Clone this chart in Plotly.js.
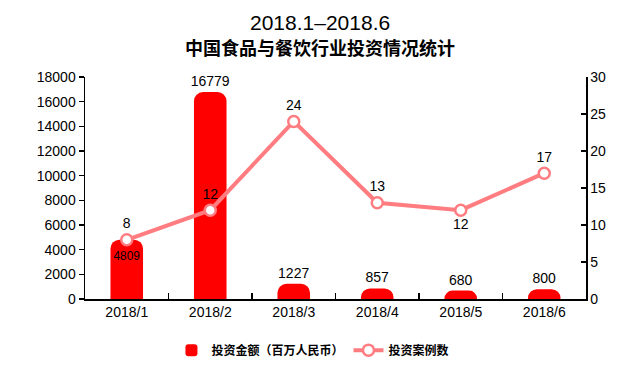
<!DOCTYPE html>
<html>
<head>
<meta charset="utf-8">
<script src="https://cdn.plot.ly/plotly-3.0.1.min.js"></script>
<style>html,body{margin:0;padding:0;background:#fff;}#chart{width:640px;height:377px;}</style>
</head>
<body>
<div id="chart"></div>
<script>
var months = ["2018/1", "2018/2", "2018/3", "2018/4", "2018/5", "2018/6"];
var amounts = [4809, 16779, 1227, 857, 680, 800];
var cases = [8, 12, 24, 13, 12, 17];
var amountName = "投资金额（百万人民币）";
var casesName = "投资案例数";
var titleLine1 = "2018.1–2018.6";
var titleLine2 = "中国食品与餐饮行业投资情况统计";

var FONT = "Liberation Sans, Arial, Noto Sans CJK SC, sans-serif";

var barTrace = {
  type: "bar",
  name: amountName,
  x: months,
  y: amounts,
  width: 0.39,
  marker: {color: "#FF0000", cornerradius: 9},
  text: amounts.map(String),
  textposition: ["inside", "outside", "outside", "outside", "outside", "outside"],
  insidetextanchor: "end",
  textangle: 0,
  constraintext: "none",
  textfont: {color: "#000", size: 14, family: FONT},
  insidetextfont: {color: "#000", size: 14, family: FONT},
  outsidetextfont: {color: "#000", size: 14, family: FONT},
  cliponaxis: false,
  hoverinfo: "x+y"
};

var lineTrace = {
  type: "scatter",
  mode: "lines+markers+text",
  name: casesName,
  x: months,
  y: cases,
  yaxis: "y2",
  line: {color: "#FF7C80", width: 4},
  marker: {symbol: "circle", size: 11, color: "#FFFFFF", line: {color: "#FF7C80", width: 2.5}},
  text: cases.map(String),
  textposition: ["top center", "top center", "top center", "top center", "bottom center", "top center"],
  textfont: {color: "#000", size: 14, family: FONT},
  cliponaxis: false
};

var layout = {
  width: 640,
  height: 377,
  margin: {l: 85, r: 54, t: 77, b: 75},
  paper_bgcolor: "#fff",
  plot_bgcolor: "#fff",
  font: {family: FONT, size: 14, color: "#000"},
  annotations: [
    {text: titleLine1, xref: "paper", yref: "paper", x: 0.469, y: 1.244, xanchor: "center", yanchor: "middle",
     showarrow: false, font: {family: FONT, size: 21, color: "#000"}},
    {text: "<b>" + titleLine2 + "</b>", xref: "paper", yref: "paper", x: 0.469, y: 1.133, xanchor: "center", yanchor: "middle",
     showarrow: false, font: {family: "Noto Sans CJK SC, sans-serif", size: 18, color: "#000"}}
  ],
  showlegend: true,
  legend: {
    orientation: "h",
    x: 0.455, xanchor: "center",
    y: -0.165, yanchor: "top",
    font: {family: "Noto Sans CJK SC, sans-serif", size: 12, color: "#000", weight: "bold"},
    itemwidth: 30
  },
  xaxis: {
    type: "category",
    showline: true, linecolor: "#000", linewidth: 1.5,
    ticks: "inside", ticklen: 6, tickcolor: "#000", tickwidth: 1.2,
    tickson: "boundaries",
    showgrid: false, zeroline: false,
    tickfont: {size: 14}
  },
  yaxis: {
    range: [0, 18000], dtick: 2000, tickformat: "d",
    showline: true, linecolor: "#000", linewidth: 1.5,
    ticks: "outside", ticklen: 5, tickcolor: "#000", tickwidth: 1.2,
    showgrid: false, zeroline: false,
    tickfont: {size: 14}
  },
  yaxis2: {
    overlaying: "y", side: "right",
    range: [0, 30], dtick: 5,
    showline: true, linecolor: "#000", linewidth: 1.5,
    ticks: "inside", ticklen: 5, tickcolor: "#000", tickwidth: 1.2,
    showgrid: false, zeroline: false,
    tickfont: {size: 14}
  }
};

Plotly.newPlot("chart", [barTrace, lineTrace], layout, {displayModeBar: false, staticPlot: true});
</script>
</body>
</html>
